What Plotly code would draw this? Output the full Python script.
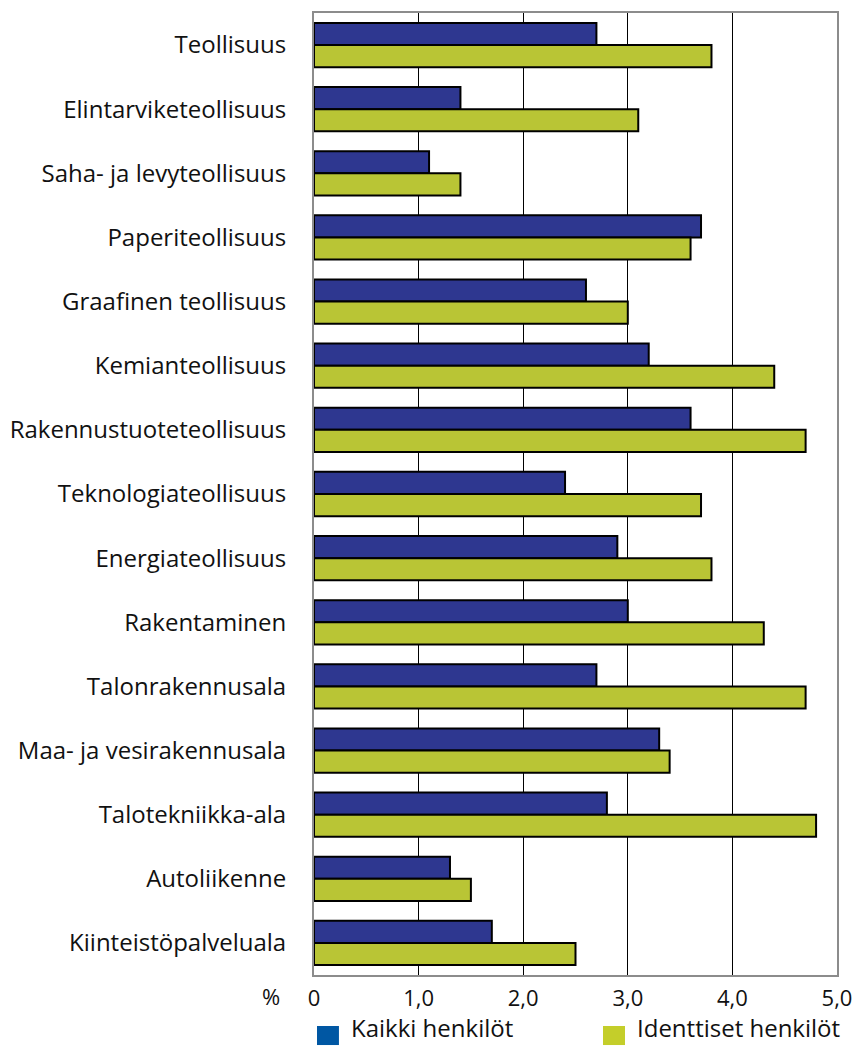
import plotly.graph_objects as go

categories = [
    "Teollisuus", "Elintarviketeollisuus", "Saha- ja levyteollisuus",
    "Paperiteollisuus", "Graafinen teollisuus", "Kemianteollisuus",
    "Rakennustuoteteollisuus", "Teknologiateollisuus", "Energiateollisuus",
    "Rakentaminen", "Talonrakennusala", "Maa- ja vesirakennusala",
    "Talotekniikka-ala", "Autoliikenne", "Kiinteistöpalveluala",
]
kaikki = [2.7, 1.4, 1.1, 3.7, 2.6, 3.2, 3.6, 2.4, 2.9, 3.0, 2.7, 3.3, 2.8, 1.3, 1.7]
identtiset = [3.8, 3.1, 1.4, 3.6, 3.0, 4.4, 4.7, 3.7, 3.8, 4.3, 4.7, 3.4, 4.8, 1.5, 2.5]
tick_vals = [0, 1, 2, 3, 4, 5]
tick_text = ["0", "1,0", "2,0", "3,0", "4,0", "5,0"]

FONT = "Open Sans"

fig = go.Figure()
fig.add_bar(y=categories, x=kaikki, orientation="h", name="Kaikki henkilöt",
            marker=dict(color="#2E3790", line=dict(color="black", width=2)),
            showlegend=False)
fig.add_bar(y=categories, x=identtiset, orientation="h", name="Identtiset henkilöt",
            marker=dict(color="#B9C535", line=dict(color="black", width=2)),
            showlegend=False)

# page has an 8px body margin, so size the figure to fit the window
fig.update_layout(
    width=847, height=1038,
    margin=dict(l=306, r=18, t=5, b=71),
    barmode="group", bargap=0.31, bargroupgap=0,
    plot_bgcolor="white", paper_bgcolor="white",
    font=dict(family=FONT, size=24, color="#111111"),
)
fig.update_xaxes(
    range=[0, 5], tickvals=tick_vals, ticktext=tick_text,
    showgrid=True, gridcolor="black", gridwidth=1, zeroline=False,
    showline=True, linecolor="#8c8c8c", linewidth=2, mirror=True,
    ticks="", ticklabelstandoff=3, tickfont=dict(size=22), automargin=False,
)
fig.update_yaxes(
    autorange="reversed", showgrid=False, zeroline=False,
    showline=True, linecolor="#8c8c8c", linewidth=2, mirror=True,
    ticks="", ticklabelstandoff=21, tickfont=dict(size=24), automargin=False,
)

# percent sign next to x tick labels
fig.add_annotation(text="%", xref="paper", yref="paper", x=-0.082, y=-0.0218,
                   showarrow=False, xanchor="center", yanchor="middle",
                   font=dict(size=22))

# legend drawn by hand to get the large swatches
legend_items = [("Kaikki henkilöt", "#0057A3", 0.0057), ("Identtiset henkilöt", "#C4CE2A", 0.5526)]
for label, color, x0 in legend_items:
    fig.add_shape(type="rect", xref="paper", yref="paper",
                  x0=x0, x1=x0 + 0.042, y0=-0.0728, y1=-0.053,
                  fillcolor=color, line=dict(width=0))
    fig.add_annotation(text=label, xref="paper", yref="paper", x=x0 + 0.061, y=-0.0738,
                       showarrow=False, xanchor="left", yanchor="bottom",
                       font=dict(size=24))

fig.write_html("out.html")
